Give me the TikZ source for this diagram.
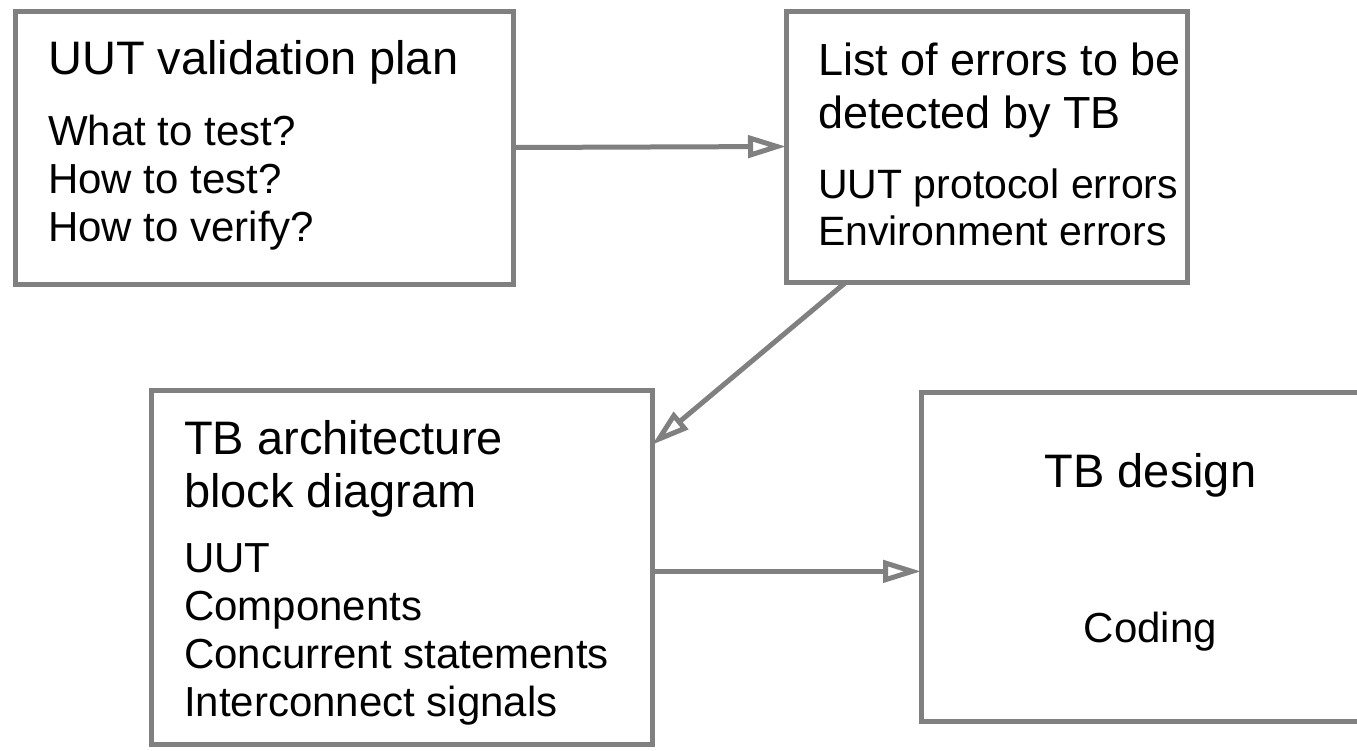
\documentclass[tikz,border=0pt]{standalone}
\usepackage{fontspec}
\setmainfont{Liberation Sans}
\usetikzlibrary{arrows.meta}
\definecolor{boxgray}{HTML}{808080}
\newcommand{\hd}{\fontsize{47}{53}\selectfont}
\newcommand{\hdb}{\fontsize{45}{53}\selectfont}
\newcommand{\lst}{\fontsize{42}{48}\selectfont}
\newcommand{\lstb}{\fontsize{41}{47}\selectfont}

\begin{document}
\begin{tikzpicture}[x=1pt,y=-1pt,
  blk/.style={draw=boxgray, line width=5pt, rectangle, inner sep=0pt, outer sep=0pt},
  txt/.style={align=left, inner sep=0pt, font=\lst},
  flow/.style={draw=boxgray, line width=5pt, -{Triangle[open,length=38pt,width=22pt]}}]
\useasboundingbox (0,0) rectangle (1357,750);
\clip (0,0) rectangle (1357,750);

\node (plan) [blk, anchor=north west, minimum width=498pt, minimum height=273pt] at (15,11) {};
\node (errs) [blk, anchor=north west, minimum width=401pt, minimum height=271pt] at (786,11) {};
\node (arch) [blk, anchor=north west, minimum width=501pt, minimum height=354pt] at (151,390) {};
\node (design) [blk, anchor=north west, minimum width=459pt, minimum height=329pt] at (921,392) {};

\node (plantxt) [txt, anchor=west, xshift=33pt, yshift=2pt] at (plan.west)
  {{\hd UUT validation plan}\\[23pt] What to test?\\ How to test?\\ How to verify?};
\node (errstxt) [txt, font=\lstb, anchor=west, xshift=32pt, yshift=2pt] at (errs.west)
  {{\hdb List of errors to be}\\[6pt]{\hdb detected by TB}\\[23pt] UUT protocol errors\\ Environment errors};
\node (archtxt) [txt, anchor=west, xshift=33pt, yshift=-6pt] at (arch.west)
  {{\hd TB architecture}\\[5pt]{\hd block diagram}\\[17pt] UUT\\ Components\\ Concurrent statements\\ Interconnect signals};
\node (designtxt) [txt, align=center, yshift=4pt] at (design)
  {{\hd TB design}\\[107pt] Coding};

\draw[flow] (plan.east) -- (errs.west);
\draw[flow] (errs.224) -- (arch.26);
\draw[flow] (arch.359) -- (arch.359 -| design.west);
\end{tikzpicture}
\end{document}
